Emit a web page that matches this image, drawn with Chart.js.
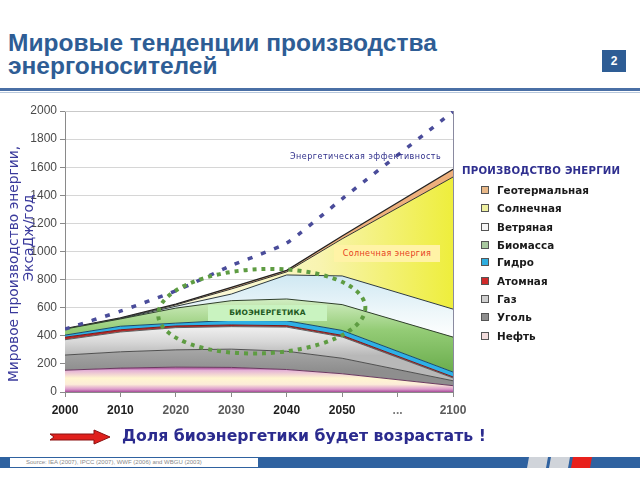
<!DOCTYPE html>
<html><head><meta charset="utf-8">
<script src="https://cdn.jsdelivr.net/npm/chart.js@4"></script>
<style>
html,body{margin:0;padding:0;background:#fff;}
#page{position:relative;width:640px;height:480px;overflow:hidden;font-family:"Liberation Sans",Arial,sans-serif;}
.abs{position:absolute;white-space:nowrap;}
#title{left:8px;top:32px;font:bold 24.5px "Liberation Sans",Arial,sans-serif;color:#2e5d95;line-height:22.5px;}
#pnum{left:602px;top:50px;width:24px;height:22px;background:#2e5d95;color:#fff;font:bold 12px "Liberation Sans",Arial;text-align:center;line-height:22px;}
#rule1{left:0;top:88px;width:640px;height:3px;background:#4a6fa5;}
#rule2{left:0;top:92px;width:640px;height:1px;background:#b8c8dc;}
canvas{position:absolute;left:0;top:0;}
.ytitle{font:13.8px "DejaVu Sans",sans-serif;color:#3a3a9c;transform:translate(-50%,-50%) rotate(-90deg);}
.leg{font:bold 10.4px "DejaVu Sans",sans-serif;color:#1a1a1a;transform:translateY(-50%);}
.sq{width:6px;height:6px;border:1px solid #555;}
</style></head>
<body><div id="page">
<div id="title" class="abs">Мировые тенденции производства<br>энергоносителей</div>
<div id="pnum" class="abs">2</div>
<div id="rule1" class="abs"></div><div id="rule2" class="abs"></div>
<canvas id="c" width="640" height="480"></canvas>
<div class="abs ytitle" style="left:13px;top:264px;">Мировое производство энергии,</div>
<div class="abs ytitle" style="left:28px;top:238px;">ЭксаДж/год</div>
<div class="abs" style="left:290px;top:152px;font:8px 'DejaVu Sans',sans-serif;letter-spacing:0.5px;color:#2e2e8a;">Энергетическая эффективность</div>
<div class="abs" style="left:334px;top:245px;width:106px;height:17px;background:#fff3a6;font:8px 'DejaVu Sans',sans-serif;letter-spacing:0.4px;color:#e5401c;text-align:center;line-height:17px;">Солнечная энергия</div>
<div class="abs" style="left:208px;top:305px;width:119px;height:16px;background:#c9f3c0;font:bold 7.5px 'DejaVu Sans',sans-serif;letter-spacing:0.2px;color:#225a22;text-align:center;line-height:16px;">БИОЭНЕРГЕТИКА</div>
<div id="legend"></div>
<svg class="abs" style="left:48px;top:429px;" width="64" height="16"><polygon points="2,5 46,5 46,1 62,8 46,15 46,11 2,11 6,8" fill="#e0201c" stroke="#8a1010" stroke-width="1"/></svg>
<div class="abs" style="left:122px;top:426px;font:bold 15.7px 'DejaVu Sans',sans-serif;color:#2b2b8e;">Доля биоэнергетики будет возрастать !</div>
<div class="abs" style="left:0;top:457px;width:640px;height:11px;background:#2f62a0;"></div>
<div class="abs" style="left:10px;top:458px;width:248px;height:9px;background:#fff;font:6px 'Liberation Sans',Arial;color:#8a8a8a;line-height:9px;padding-left:16px;box-sizing:border-box;">Source: IEA (2007), IPCC (2007), WWF (2006) and WBGU (2003)</div>
<svg class="abs" style="left:526px;top:457px;" width="70" height="11">
<polygon points="3,0 22,0 20,11 1,11" fill="#d0d4da"/>
<polygon points="25,0 44,0 42,11 23,11" fill="#d0d4da"/>
<polygon points="47,0 66,0 64,11 45,11" fill="#e8201c"/>
</svg>
</div>
<script>
// ---- data ----
const axisLabels = ['2000','2010','2020','2030','2040','2050','...','2100'];
const dataYears = [2000, 2010, 2020, 2030, 2040, 2050, 2100];
const oil        = [155, 170, 177, 175, 160, 130, 45];
const coal       = [108, 116, 123, 130, 130, 110, 35];
const gas        = [109, 141, 158, 160, 172, 152, 20];
const nuclear    = [18, 16, 12, 12, 10, 11, 7];
const hydro      = [15, 25, 20, 33, 35, 35, 35];
const biomass    = [43, 52, 107, 140, 155, 184, 249];
const wind       = [0, 2, 13, 47, 171, 204, 199];
const solar      = [0, 2, 10, 36, 22, 264, 940];
const geothermal = [2, 4, 6, 12, 11, 20, 55];
const efficiency = [448, 575, 720, 900, 1060, 1375, 1995];
const yTicks = [0,200,400,600,800,1000,1200,1400,1600,1800,2000];
const legendNames = ['Геотермальная','Солнечная','Ветряная','Биомасса','Гидро','Атомная','Газ','Уголь','Нефть'];
const legendColors = ['#e8b888','#eef0a0','#f6f6f6','#a9c9a0','#2eaee0','#d02a2a','#cfcfcf','#8e8e8e','#f2dcdc'];

// compressed time axis: decades up to 2050, then "..." and 2100
function yearPos(y){ return y <= 2050 ? (y-2000)/10 : 5 + (y-2050)/25; }
const pts = arr => arr.map((v,i)=>({x: yearPos(dataYears[i]), y: v}));

// legend
(function(){
  const L = document.getElementById('legend');
  let html = '<div class="abs" style="left:462px;top:165px;font:bold 10.2px \'DejaVu Sans\',sans-serif;color:#2f2f8f;letter-spacing:0.2px;">ПРОИЗВОДСТВО ЭНЕРГИИ</div>';
  const ys = [190,208,227,245,262,281,299,317,336];
  legendNames.forEach((n,i)=>{
    html += '<div class="abs sq" style="left:481px;top:'+(ys[i]-4)+'px;background:'+legendColors[i]+';"></div>';
    html += '<div class="abs leg" style="left:497px;top:'+ys[i]+'px;">'+n+'</div>';
  });
  L.innerHTML = html;
})();

function vgrad(ctx, stops, v0, v1){
  const chart = ctx.chart;
  if (!chart.chartArea) return stops[0][1];
  const ys = chart.scales.y;
  const g = chart.ctx.createLinearGradient(0, ys.getPixelForValue(v0), 0, ys.getPixelForValue(v1));
  stops.forEach(s=>g.addColorStop(s[0], s[1]));
  return g;
}
function hgrad(ctx, stops, x0, x1){
  const chart = ctx.chart;
  if (!chart.chartArea) return stops[0][1];
  const xs = chart.scales.x;
  const g = chart.ctx.createLinearGradient(xs.getPixelForValue(x0), 0, xs.getPixelForValue(x1), 0);
  stops.forEach(s=>g.addColorStop(s[0], s[1]));
  return g;
}

function layer(label, arr, bg, border, fill, bw){
  return {label, data: pts(arr), stack:'energy', backgroundColor: bg, borderColor: border,
    borderWidth: bw || 1, fill: fill, pointRadius: 0, tension: 0};
}

const datasets = [
  layer('Нефть', oil, c=>vgrad(c,[[0,'#b05aa0'],[0.1,'#e4b2d6'],[0.42,'#fff6d0'],[0.68,'#fcecd8'],[0.88,'#dc9ccc'],[1,'#a84c98']],170,0), '#6a3a60', 'origin'),
  layer('Уголь', coal, c=>vgrad(c,[[0,'#a8a8a8'],[1,'#8e8e8e']],310,150), '#505050', '-1'),
  layer('Газ', gas, c=>vgrad(c,[[0,'#f4f4f4'],[0.55,'#d8d8d8'],[1,'#b8b8b8']],480,260), '#606060', '-1'),
  layer('Атомная', nuclear, '#b62a2a', '#7a1a1a', '-1'),
  layer('Гидро', hydro, '#2eb0e6', '#1a4a6a', '-1'),
  layer('Биомасса', biomass, c=>vgrad(c,[[0,'#d6f0c8'],[0.45,'#94cc76'],[1,'#6cae4e']],680,150), '#2e3e2a', '-1'),
  layer('Ветряная', wind, c=>vgrad(c,[[0,'#cde7f2'],[0.6,'#eef7fa'],[1,'#ffffff']],850,380), '#2e3a3e', '-1'),
  layer('Солнечная', solar, c=>hgrad(c,[[0,'#fbf8d4'],[0.4,'#f8f4b0'],[1,'#eeee3c']],3,7), '#333333', '-1'),
  layer('Геотермальная', geothermal, '#eeb07c', '#222222', '-1', 1.3),
  {label:'Энергетическая эффективность', data: pts(efficiency), stack:'eff', order:-1,
   borderColor:'#4a4c9a', borderWidth:3.5, borderDash:[5,9], fill:false, pointRadius:0, tension:0.15}
];

const overlay = {
  id:'overlay',
  beforeDatasetsDraw(chart){
    const {ctx, chartArea:a} = chart;
    ctx.save();
    ctx.strokeStyle = '#c9c9c9'; ctx.lineWidth = 1;
    ctx.beginPath(); ctx.moveTo(a.left, a.top+0.5); ctx.lineTo(a.right, a.top+0.5); ctx.stroke();
    ctx.strokeStyle = '#8a8aa0';
    ctx.beginPath(); ctx.moveTo(a.right+0.5, a.top); ctx.lineTo(a.right+0.5, a.bottom); ctx.stroke();
    ctx.restore();
  },
  afterDatasetsDraw(chart){
    const {ctx} = chart; const xs = chart.scales.x, ys = chart.scales.y;
    // dotted ellipse around bioenergy region
    const cx = xs.getPixelForValue(3.55), cy = ys.getPixelForValue(575);
    const rx = xs.getPixelForValue(3.55+1.87) - cx;
    const ry = cy - ys.getPixelForValue(575+300);
    ctx.save();
    ctx.strokeStyle = '#5e9c42'; ctx.lineWidth = 4; ctx.setLineDash([4,5]);
    ctx.beginPath(); ctx.ellipse(cx, cy, rx, ry, -0.04, 0, Math.PI*2); ctx.stroke();
    ctx.restore();
  }
};

new Chart(document.getElementById('c'), {
  type:'line',
  data:{datasets},
  options:{
    responsive:false, animation:false,
    layout:{padding:{left:0, right:187, top:111, bottom:58}},
    plugins:{legend:{display:false}, tooltip:{enabled:false}},
    scales:{
      x:{type:'linear', min:0, max:7,
         afterFit(s){ s.height = 30; },
         afterBuildTicks(s){ s.ticks = axisLabels.map((_,i)=>({value:i})); },
         ticks:{autoSkip:false, padding:6, maxRotation:0,
           callback:(v)=>axisLabels[v],
           color:(c)=>['#1e1e1e','#1e1e1e','#5a5a5a','#5a5a5a','#1e1e1e','#1e1e1e','#7a7a7a','#5a5a5a'][c.index],
           font:{family:'"Liberation Sans", Arial', size:12, weight:'bold'}},
         grid:{drawOnChartArea:false, drawTicks:true, tickLength:5, color:'#8a8a8a'},
         border:{color:'#8a8a8a'}},
      y:{stacked:true, min:0, max:2000,
         afterFit(s){ s.width = 65; },
         afterBuildTicks(s){ s.ticks = yTicks.map(v=>({value:v})); },
         ticks:{padding:3, color:'#4a4a4a', font:{family:'"Liberation Sans", Arial', size:12},
           callback:(v)=>String(v)},
         grid:{color:'#d6d6d6', tickLength:5, tickColor:'#8a8a8a'},
         border:{color:'#8a8a8a'}}
    }
  },
  plugins:[overlay]
});
</script>
</body></html>
